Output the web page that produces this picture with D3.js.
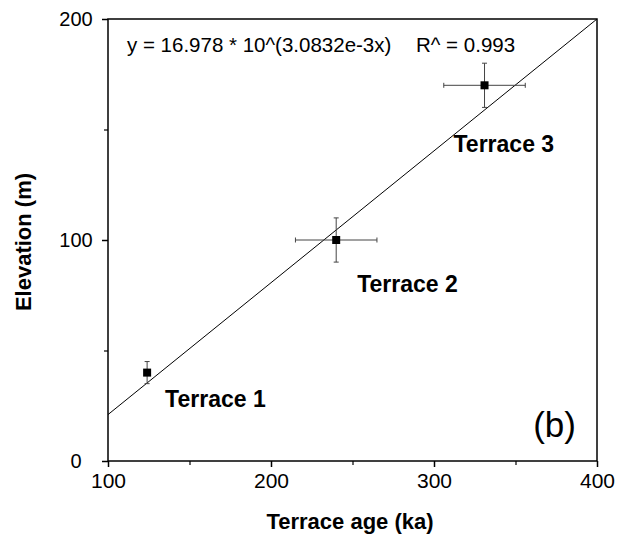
<!DOCTYPE html>
<html>
<head>
<meta charset="utf-8">
<script src="https://cdn.jsdelivr.net/npm/d3@7"></script>
<style>
  body { margin: 0; background: #fff; }
  svg { font-family: "Liberation Sans", Arial, sans-serif; }
</style>
</head>
<body>
<svg width="618" height="539"></svg>
<script>
// terrace data
const terraces = ["Terrace 1", "Terrace 2", "Terrace 3"];
const ages = [124, 240, 331];
const ageErr = [0, 25, 25];
const elevations = [40, 100, 170];
const elevErr = [5, 10, 10];

// fitted line end points
const fitX = [100, 400];
const fitY = [21, 200];

const xTicks = [100, 200, 300, 400];
const xMinor = [150, 250, 350];
const yTicks = [0, 100, 200];
const yMinor = [50, 150];

const equation = "y = 16.978 * 10^(3.0832e-3x)";
const rText = "R^ = 0.993";

const margin = {top: 19, right: 21, bottom: 78, left: 108},
    plotWidth = 618 - margin.left - margin.right,
    plotHeight = 539 - margin.top - margin.bottom;

const svg = d3.select("svg");
const g = svg.append("g")
    .attr("transform", `translate(${margin.left}, ${margin.top})`);

const x = d3.scaleLinear().domain([100, 400]).range([0, plotWidth]);
const y = d3.scaleLinear().domain([0, 200]).range([plotHeight, 0]);

// frame
g.append("rect")
    .attr("width", plotWidth)
    .attr("height", plotHeight)
    .attr("fill", "none")
    .attr("stroke", "#000")
    .attr("stroke-width", 1.5);

// X axis
const xAxis = g.append("g")
    .attr("transform", `translate(0, ${plotHeight})`)
    .call(d3.axisBottom(x).tickValues(xTicks).tickSize(6).tickPadding(6).tickFormat(d3.format("d")));
xAxis.select(".domain").remove();
xAxis.selectAll("line").attr("stroke-width", 1.5);
xAxis.selectAll("text").attr("font-size", "21px").attr("font-family", "Liberation Sans, Arial, sans-serif");

g.append("g")
    .attr("transform", `translate(0, ${plotHeight})`)
    .call(d3.axisBottom(x).tickValues(xMinor).tickSize(4).tickFormat(""))
    .call(a => a.select(".domain").remove())
    .selectAll("line").attr("stroke-width", 1.2);

// Y axis
const yAxis = g.append("g")
    .call(d3.axisLeft(y).tickValues(yTicks).tickSize(6).tickPadding(6).tickFormat(d3.format("d")));
yAxis.select(".domain").remove();
yAxis.selectAll("line").attr("stroke-width", 1.5);
yAxis.selectAll("text")
    .attr("font-size", "20px")
    .attr("font-family", "Liberation Sans, Arial, sans-serif")
    .attr("text-anchor", "middle")
    .attr("x", -32);

g.append("g")
    .call(d3.axisLeft(y).tickValues(yMinor).tickSize(4).tickFormat(""))
    .call(a => a.select(".domain").remove())
    .selectAll("line").attr("stroke-width", 1.2);

// fitted line
g.append("line")
    .attr("x1", x(fitX[0])).attr("y1", y(fitY[0]))
    .attr("x2", x(fitX[1])).attr("y2", y(fitY[1]))
    .attr("stroke", "#000")
    .attr("stroke-width", 1);

const pts = terraces.map((t, i) => ({name: t, age: ages[i], ae: ageErr[i], elev: elevations[i], ee: elevErr[i]}));

const errG = g.append("g").attr("stroke", "#444").attr("stroke-width", 1);
const cap = 2.5;
pts.forEach(d => {
    // vertical error
    errG.append("line")
        .attr("x1", x(d.age)).attr("x2", x(d.age))
        .attr("y1", y(d.elev - d.ee)).attr("y2", y(d.elev + d.ee));
    [d.elev - d.ee, d.elev + d.ee].forEach(v => {
        errG.append("line")
            .attr("x1", x(d.age) - cap).attr("x2", x(d.age) + cap)
            .attr("y1", y(v)).attr("y2", y(v));
    });
    if (d.ae > 0) {
        errG.append("line")
            .attr("x1", x(d.age - d.ae)).attr("x2", x(d.age + d.ae))
            .attr("y1", y(d.elev)).attr("y2", y(d.elev));
        [d.age - d.ae, d.age + d.ae].forEach(v => {
            errG.append("line")
                .attr("x1", x(v)).attr("x2", x(v))
                .attr("y1", y(d.elev) - cap).attr("y2", y(d.elev) + cap);
        });
    }
});

// markers
g.selectAll("rect.pt").data(pts)
    .enter().append("rect")
    .attr("class", "pt")
    .attr("x", d => x(d.age) - 4)
    .attr("y", d => y(d.elev) - 4)
    .attr("width", 8)
    .attr("height", 8)
    .attr("fill", "#000");

// terrace labels (offset from the point in px)
const labelOffset = [[18, 34], [21, 52], [-31, 67]];
g.selectAll("text.lab").data(pts)
    .enter().append("text")
    .attr("class", "lab")
    .attr("x", (d, i) => x(d.age) + labelOffset[i][0])
    .attr("y", (d, i) => y(d.elev) + labelOffset[i][1])
    .attr("font-size", "23px")
    .attr("font-weight", "bold")
    .text(d => d.name);

// equation
g.append("text")
    .attr("x", 19)
    .attr("y", 33)
    .attr("font-size", "20.5px")
    .text(equation);
g.append("text")
    .attr("x", 308)
    .attr("y", 33)
    .attr("font-size", "20.5px")
    .text(rText);

// panel letter
g.append("text")
    .attr("x", plotWidth - 21)
    .attr("y", plotHeight - 24)
    .attr("font-size", "35px")
    .attr("text-anchor", "end")
    .text("(b)");

// axis titles
svg.append("text")
    .attr("x", 350)
    .attr("y", 529)
    .attr("font-size", "22px")
    .attr("font-weight", "bold")
    .attr("text-anchor", "middle")
    .text("Terrace age (ka)");

svg.append("text")
    .attr("transform", "translate(31, 242) rotate(-90)")
    .attr("font-size", "22px")
    .attr("font-weight", "bold")
    .attr("text-anchor", "middle")
    .text("Elevation (m)");
</script>
</body>
</html>
